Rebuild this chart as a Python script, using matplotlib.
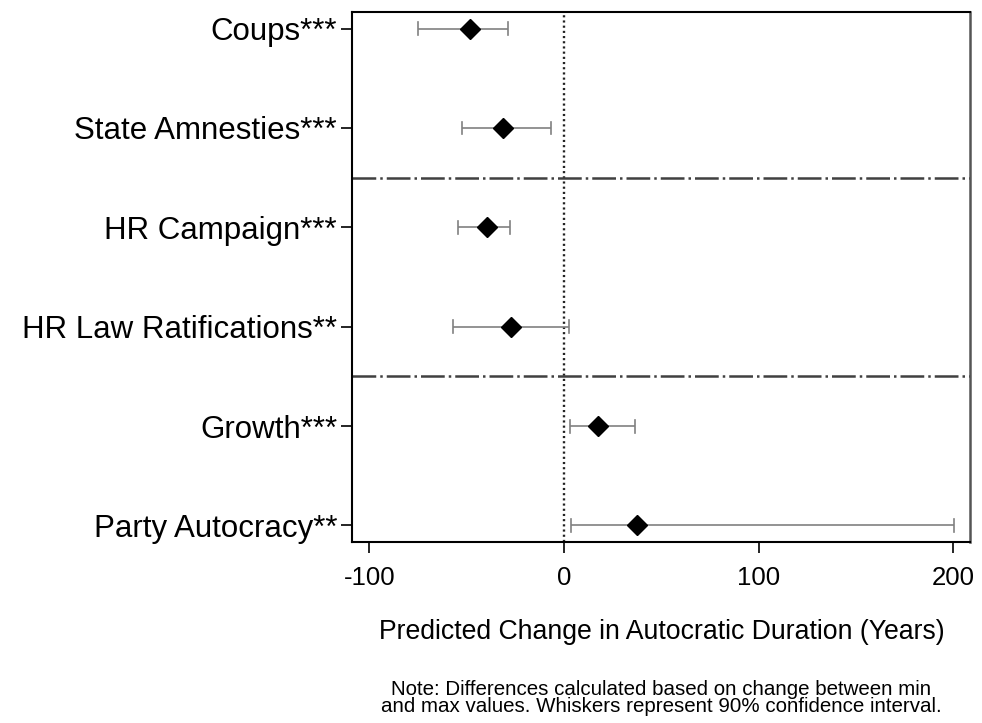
import matplotlib
matplotlib.use("Agg")
import matplotlib.pyplot as plt

categories = ["Coups***", "State Amnesties***", "HR Campaign***",
              "HR Law Ratifications**", "Growth***", "Party Autocracy**"]
estimates = [-48.5, -31.3, -39.6, -27.4, 17.6, 37.3]
lower = [-75.0, -52.6, -54.6, -57.2, 3.1, 3.6]
upper = [-28.7, -6.7, -27.6, 2.8, 36.5, 200.2]
group_breaks = [1.5, 3.5]
xticks = [-100, 0, 100, 200]
xlabel = "Predicted Change in Autocratic Duration (Years)"
note = ("Note: Differences calculated based on change between min\n"
        "and max values. Whiskers represent 90% confidence interval.")

plt.rcParams['font.family'] = ['Liberation Sans', 'DejaVu Sans']

fig = plt.figure(figsize=(9.82, 7.23), dpi=100)
ax = fig.add_axes([0.3588, 0.2499, 0.9878 - 0.3588, 0.9838 - 0.2499])

ypos = list(range(len(categories)))

# zero line
ax.axvline(0, color='#222222', lw=1.7, linestyle=(0, (0.9, 1.3)), zorder=1)
# group separators
for b in group_breaks:
    ax.axhline(b, color='#404040', lw=1.8, linestyle=(0, (9.5, 1.6, 1.0, 1.6)), zorder=1)

# whiskers
for y, lo, hi in zip(ypos, lower, upper):
    ax.plot([lo, hi], [y, y], color='#808080', lw=1.2, zorder=2, solid_capstyle='butt')
    ax.plot([lo, lo], [y - 0.065, y + 0.065], color='#808080', lw=1.2, zorder=2)
    ax.plot([hi, hi], [y - 0.065, y + 0.065], color='#808080', lw=1.2, zorder=2)

ax.plot(estimates, ypos, linestyle='none', marker='D', markersize=9.8,
        color='black', zorder=3)

ax.set_xlim(-108.7, 208.6)
ax.set_ylim(5.17, -0.17)
ax.set_yticks(ypos)
ax.set_yticklabels(categories, fontsize=22.5)
ax.set_xticks(xticks)
ax.set_xticklabels([str(t) for t in xticks], fontsize=18.5)
ax.tick_params(axis='both', direction='out', length=8, width=1.2, color='black')
ax.tick_params(axis='y', pad=3)
ax.tick_params(axis='x', pad=9)

for s in ['left', 'top', 'bottom']:
    ax.spines[s].set_linewidth(1.5)
    ax.spines[s].set_color('black')
ax.spines['right'].set_linewidth(1.8)
ax.spines['right'].set_color('#555555')

fig.text(0.6735, 1 - 632 / 723, xlabel, ha='center', va='center', fontsize=19.2)
fig.text(0.6735, 1 - 698 / 723, note, ha='center', va='center', fontsize=14.8,
         linespacing=0.86)

fig.savefig("out.png", dpi=100)
